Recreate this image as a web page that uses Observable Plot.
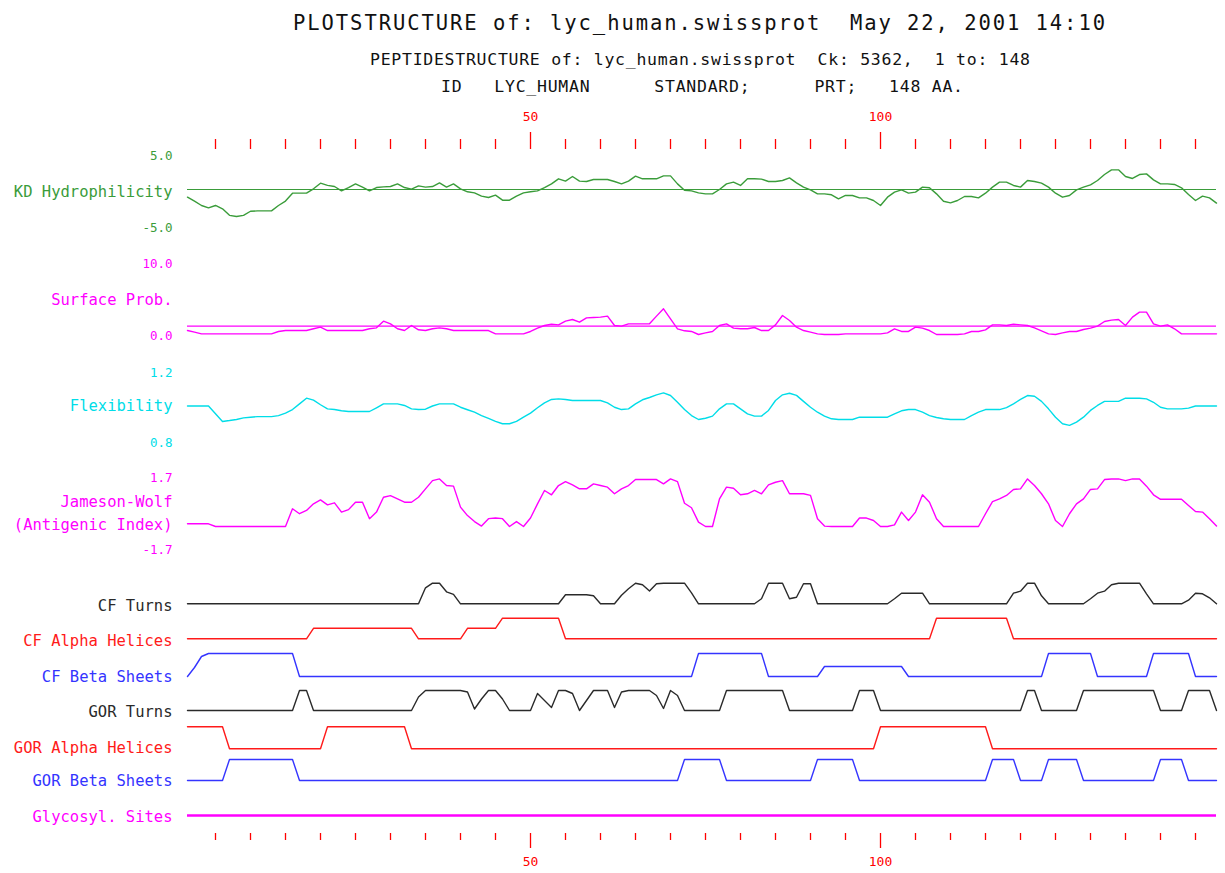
<!DOCTYPE html>
<html>
<head>
<meta charset="utf-8">
<script src="https://cdn.jsdelivr.net/npm/d3@7"></script>
<script src="https://cdn.jsdelivr.net/npm/@observablehq/plot@0.6"></script>
<style>
html, body { margin: 0; padding: 0; background: #fff; }
#chart { position: relative; width: 1225px; height: 873px; overflow: hidden; background: #fff; }
#chart svg { position: absolute; left: 0; top: 0; }
</style>
</head>
<body>
<div id="chart"></div>
<script>
// ---------------- DATA ----------------
const titleLines = [
  "PLOTSTRUCTURE of: lyc_human.swissprot  May 22, 2001 14:10",
  "PEPTIDESTRUCTURE of: lyc_human.swissprot  Ck: 5362,  1 to: 148",
  "ID   LYC_HUMAN      STANDARD;      PRT;   148 AA."
];
const residueDomain = [1, 148];
const minorTicks = [5,10,15,20,25,30,35,40,45,55,60,65,70,75,80,85,90,95,105,110,115,120,125,130,135,140,145];
const majorTicks = [50, 100];
const majorTickLabels = ["50", "100"];

const trackNames = ["KD Hydrophilicity", "Surface Prob.", "Flexibility", "Jameson-Wolf", "(Antigenic Index)",
  "CF Turns", "CF Alpha Helices", "CF Beta Sheets", "GOR Turns", "GOR Alpha Helices", "GOR Beta Sheets", "Glycosyl. Sites"];
const hydroScale = [-5, 5],   hydroTickLabels = ["5.0", "-5.0"];
const surfaceScale = [0, 10], surfaceTickLabels = ["10.0", "0.0"], surfaceThreshold = 1.3;
const flexScale = [0.8, 1.2], flexTickLabels = ["1.2", "0.8"];
const jwScale = [-1.7, 1.7],  jwTickLabels = ["1.7", "-1.7"];

// Kyte-Doolittle hydrophilicity, residues 1..148
const hydrophilicity = [
  -1.13,-1.72,-2.35,-2.70,-2.35,-2.84,-3.80,-3.97,-3.80,-3.20,
  -3.15,-3.15,-3.15,-2.35,-1.70,-0.54,-0.54,-0.54,0.10,0.93,
  0.60,0.44,-0.20,0.29,0.83,0.35,-0.20,0.29,0.39,0.44,
  0.83,0.29,0.05,0.54,0.35,0.44,0.97,0.35,0.83,0.10,
  -0.34,-0.49,-0.98,-1.18,-0.83,-1.57,-1.57,-0.98,-0.49,-0.34,
  -0.20,0.29,0.83,1.57,1.23,1.91,1.23,1.18,1.47,1.47,
  1.47,1.18,0.83,1.23,1.96,1.57,1.57,1.57,2.00,2.00,
  0.83,-0.10,-0.20,-0.50,-0.64,-0.64,0.00,0.83,1.08,0.59,
  1.57,1.57,1.52,1.18,1.18,1.32,1.71,0.98,0.35,-0.05,
  -0.64,-0.64,-0.78,-1.37,-0.88,-0.88,-1.23,-1.23,-1.62,-2.35,
  -1.13,-0.39,-0.05,-0.54,-0.39,0.35,0.25,-0.64,-1.72,-1.96,
  -1.62,-1.03,-1.03,-1.23,-0.54,0.35,1.08,1.08,0.59,0.35,
  1.32,1.18,0.93,0.35,-0.54,-1.13,-0.88,-0.05,0.35,0.69,
  1.32,2.20,2.89,2.89,1.91,1.62,2.20,2.30,1.42,0.83,
  0.83,0.74,0.25,-0.74,-1.62,-0.98,-1.23,-2.00
];
// Surface probability
const surfaceProb = [
  0.69,0.46,0.23,0.23,0.23,0.23,0.23,0.23,0.23,0.23,
  0.23,0.23,0.23,0.56,0.69,0.69,0.69,0.69,0.93,1.16,
  0.69,0.69,0.69,0.69,0.69,0.69,0.93,1.06,1.99,1.62,
  0.93,0.69,1.39,0.79,0.69,0.93,1.06,0.93,0.69,0.69,
  0.69,0.69,0.69,0.69,0.23,0.23,0.23,0.23,0.23,0.56,
  1.02,1.39,1.57,1.48,1.99,2.22,1.85,2.45,2.50,2.55,
  2.69,1.39,1.30,1.62,1.62,1.62,1.62,2.69,3.70,2.31,
  0.93,0.65,0.56,0.14,0.37,0.56,1.39,1.62,1.02,0.93,
  0.93,1.11,0.69,0.69,1.48,2.78,2.08,1.16,0.69,0.46,
  0.23,0.14,0.14,0.14,0.23,0.23,0.23,0.23,0.23,0.23,
  0.37,0.93,0.56,0.56,1.16,1.02,0.69,0.14,0.14,0.14,
  0.14,0.23,0.56,0.56,0.79,1.48,1.48,1.39,1.57,1.48,
  1.39,1.06,0.65,0.23,0.14,0.37,0.56,0.56,0.83,1.02,
  1.30,1.94,2.13,2.22,1.39,2.55,3.24,3.24,1.62,1.30,
  1.48,0.93,0.23,0.23,0.23,0.23,0.23,0.23
];
// Flexibility
const flexibility = [
  1.000,1.000,1.000,1.000,0.956,0.913,0.918,0.924,0.933,0.937,
  0.940,0.940,0.940,0.946,0.960,0.980,1.012,1.044,1.033,1.007,
  0.984,0.980,0.973,0.969,0.969,0.969,0.969,0.990,1.012,1.012,
  1.012,1.003,0.984,0.980,0.982,1.000,1.012,1.012,1.012,0.993,
  0.979,0.965,0.946,0.930,0.913,0.900,0.900,0.913,0.937,0.960,
  0.990,1.018,1.037,1.040,1.037,1.031,1.031,1.031,1.031,1.031,
  1.018,0.993,0.980,0.984,1.012,1.035,1.048,1.063,1.074,1.059,
  1.021,0.980,0.946,0.924,0.931,0.943,0.984,1.012,1.012,0.984,
  0.956,0.943,0.943,0.975,1.031,1.063,1.072,1.060,1.026,0.993,
  0.965,0.943,0.928,0.924,0.924,0.924,0.937,0.937,0.937,0.937,
  0.937,0.956,0.973,0.980,0.980,0.965,0.946,0.935,0.928,0.924,
  0.924,0.924,0.946,0.965,0.980,0.980,0.980,0.991,1.012,1.037,
  1.059,1.055,1.026,0.984,0.937,0.900,0.891,0.909,0.937,0.975,
  1.003,1.026,1.026,1.026,1.044,1.044,1.044,1.040,1.021,0.993,
  0.984,0.984,0.984,0.988,1.000,1.000,1.000,1.000
];
// Jameson-Wolf antigenic index
const antigenicIndex = [
  -0.55,-0.55,-0.55,-0.55,-0.68,-0.68,-0.68,-0.68,-0.68,-0.68,
  -0.68,-0.68,-0.68,-0.68,-0.68,0.18,-0.06,0.10,0.42,0.61,
  0.37,0.47,0.02,0.14,0.50,0.50,-0.30,0.02,0.74,0.82,
  0.66,0.50,0.50,0.74,1.15,1.55,1.63,1.31,1.28,0.26,
  -0.15,-0.44,-0.66,-0.30,-0.27,-0.30,-0.68,-0.44,-0.68,-0.27,
  0.42,1.07,0.86,1.31,1.50,1.34,1.15,1.15,1.39,1.31,
  1.23,0.91,1.15,1.31,1.60,1.60,1.60,1.60,1.39,1.63,
  1.50,0.45,0.23,-0.47,-0.68,-0.68,0.66,1.23,1.18,0.86,
  0.91,1.07,0.91,1.34,1.47,1.55,0.91,0.91,0.91,0.83,
  -0.30,-0.66,-0.68,-0.68,-0.68,-0.68,-0.27,-0.27,-0.39,-0.68,
  -0.68,-0.60,0.02,-0.39,0.02,0.86,0.50,-0.30,-0.68,-0.68,
  -0.68,-0.68,-0.68,-0.68,-0.06,0.53,0.66,0.83,1.12,1.15,
  1.63,1.31,0.91,0.42,-0.39,-0.68,-0.06,0.42,0.66,1.12,
  1.15,1.60,1.63,1.63,1.55,1.63,1.63,1.28,0.86,0.64,
  0.64,0.64,0.64,0.34,0.05,0.02,-0.30,-0.66
];
// Chou-Fasman turns
const cfTurns = [
  0,0,0,0,0,0,0,0,0,0,
  0,0,0,0,0,0,0,0,0,0,
  0,0,0,0,0,0,0,0,0,0,
  0,0,0,0,1.6,2.06,2.06,1.2,0.95,0,
  0,0,0,0,0,0,0,0,0,0,
  0,0,0,0,0.9,0.9,0.9,0.9,0.8,0,
  0,0,0.86,1.5,2.06,1.9,1.27,2.0,2.06,2.06,
  2.06,2.06,1.1,0,0,0,0,0,0,0,
  0,0,0.5,2.06,2.06,2.06,0.5,0.66,2.0,2.0,
  0,0,0,0,0,0,0,0,0,0,
  0,0.5,1.06,1.06,1.06,1.06,0,0,0,0,
  0,0,0,0,0,0,0,0,1.06,1.26,
  2.06,2.06,0.8,0,0,0,0,0,0,0.5,
  1.06,1.26,1.9,2.06,2.06,2.06,2.06,1.0,0,0,
  0,0,0,0.36,1.06,1.0,0.6,0
];
// Chou-Fasman alpha helices
const cfAlpha = [
  0,0,0,0,0,0,0,0,0,0,
  0,0,0,0,0,0,0,0,1.05,1.05,
  1.05,1.05,1.05,1.05,1.05,1.05,1.05,1.05,1.05,1.05,
  1.05,1.05,1.05,0,0,0,0,0,0,0,
  1.05,1.05,1.05,1.05,1.05,2.06,2.06,2.06,2.06,2.06,
  2.06,2.06,2.06,2.06,0,0,0,0,0,0,
  0,0,0,0,0,0,0,0,0,0,
  0,0,0,0,0,0,0,0,0,0,
  0,0,0,0,0,0,0,0,0,0,
  0,0,0,0,0,0,0,0,0,0,
  0,0,0,0,0,0,0,2.06,2.06,2.06,
  2.06,2.06,2.06,2.06,2.06,2.06,2.06,2.06,0,0,
  0,0,0,0,0,0,0,0,0,0,
  0,0,0,0,0,0,0,0,0,0,
  0,0,0,0,0,0,0,0
];
// Chou-Fasman beta sheets
const cfBeta = [
  0,0.9,2.0,2.3,2.3,2.3,2.3,2.3,2.3,2.3,
  2.3,2.3,2.3,2.3,2.3,2.3,0,0,0,0,
  0,0,0,0,0,0,0,0,0,0,
  0,0,0,0,0,0,0,0,0,0,
  0,0,0,0,0,0,0,0,0,0,
  0,0,0,0,0,0,0,0,0,0,
  0,0,0,0,0,0,0,0,0,0,
  0,0,0,2.3,2.3,2.3,2.3,2.3,2.3,2.3,
  2.3,2.3,2.3,0,0,0,0,0,0,0,
  0,1,1,1,1,1,1,1,1,1,
  1,1,1,0,0,0,0,0,0,0,
  0,0,0,0,0,0,0,0,0,0,
  0,0,0,2.3,2.3,2.3,2.3,2.3,2.3,2.3,
  0,0,0,0,0,0,0,0,2.3,2.3,
  2.3,2.3,2.3,2.3,0,0,0,0
];
// Garnier-Osguthorpe-Robson turns
const gorTurns = [
  0,0,0,0,0,0,0,0,0,0,
  0,0,0,0,0,0,2,2,0,0,
  0,0,0,0,0,0,0,0,0,0,
  0,0,0,1.35,2,2,2,2,2,2,
  1.85,0.15,1.15,2,2,1.15,0,0,0,0,
  1.7,1.0,0.3,2,2,1.7,0,1.0,2,2,
  2,0.3,1.85,2,2,2,2,1.5,0.2,2,
  1.5,0,0,0,0,0,0,2,2,2,
  2,2,2,2,2,2,0,0,0,0,
  0,0,0,0,0,0,2,2,2,0,
  0,0,0,0,0,0,0,0,0,0,
  0,0,0,0,0,0,0,0,0,0,
  2,2,0,0,0,0,0,0,2,2,
  2,2,2,2,2,2,2,2,2,0,
  0,0,0,2,2,2,2,0
];
// GOR alpha helices
const gorAlpha = [
  2.2,2.2,2.2,2.2,2.2,2.2,0,0,0,0,
  0,0,0,0,0,0,0,0,0,0,
  2.2,2.2,2.2,2.2,2.2,2.2,2.2,2.2,2.2,2.2,
  2.2,2.2,0,0,0,0,0,0,0,0,
  0,0,0,0,0,0,0,0,0,0,
  0,0,0,0,0,0,0,0,0,0,
  0,0,0,0,0,0,0,0,0,0,
  0,0,0,0,0,0,0,0,0,0,
  0,0,0,0,0,0,0,0,0,0,
  0,0,0,0,0,0,0,0,0,2.2,
  2.2,2.2,2.2,2.2,2.2,2.2,2.2,2.2,2.2,2.2,
  2.2,2.2,2.2,2.2,2.2,0,0,0,0,0,
  0,0,0,0,0,0,0,0,0,0,
  0,0,0,0,0,0,0,0,0,0,
  0,0,0,0,0,0,0,0
];
// GOR beta sheets
const gorBeta = [
  0,0,0,0,0,0,2.1,2.1,2.1,2.1,
  2.1,2.1,2.1,2.1,2.1,2.1,0,0,0,0,
  0,0,0,0,0,0,0,0,0,0,
  0,0,0,0,0,0,0,0,0,0,
  0,0,0,0,0,0,0,0,0,0,
  0,0,0,0,0,0,0,0,0,0,
  0,0,0,0,0,0,0,0,0,0,
  0,2.1,2.1,2.1,2.1,2.1,2.1,0,0,0,
  0,0,0,0,0,0,0,0,0,0,
  2.1,2.1,2.1,2.1,2.1,2.1,0,0,0,0,
  0,0,0,0,0,0,0,0,0,0,
  0,0,0,0,0,2.1,2.1,2.1,2.1,0,
  0,0,0,2.1,2.1,2.1,2.1,2.1,0,0,
  0,0,0,0,0,0,0,0,0,2.1,
  2.1,2.1,2.1,0,0,0,0,0
];
// Glycosylation sites: none predicted
const glycosylSites = [];

// ---------------- STYLE ----------------
const W = 1225, H = 873, ML = 187, MR = 9;
const MONO = "'DejaVu Sans Mono', 'Liberation Mono', monospace";
const GREEN = "#3a9c3a", MAGENTA = "#ff00ff", CYAN = "#00dde8", RED = "#ff1a1a",
      BLUE = "#3434ff", DARK = "#2a2a2a", TICKRED = "#ff0000";
const LW = 1.4, NAME_SIZE = 15.5, NUM_SIZE = 12.5;

const rows = arr => arr.map((v, i) => ({residue: i + 1, value: v}));

function layer(top, bottom, domain, marks) {
  const svg = Plot.plot({
    width: W, height: H,
    marginLeft: ML, marginRight: MR, marginTop: top, marginBottom: H - bottom,
    x: {domain: residueDomain, axis: null},
    y: {domain, axis: null},
    style: {background: "transparent", overflow: "visible"},
    marks
  });
  svg.style.position = "absolute";
  svg.style.left = "0px";
  svg.style.top = "0px";
  return svg;
}
function sideText(v, t, color, size, dy = 0) {
  return Plot.text([0], {
    y: [v], text: [t], frameAnchor: "left", dx: -15, dy,
    textAnchor: "end", fill: color, fontSize: size, fontFamily: MONO
  });
}
function series(arr, color, width = LW) {
  return Plot.line(rows(arr), {x: "residue", y: "value", stroke: color, strokeWidth: width});
}

const chart = document.getElementById("chart");

// ---------------- TITLES ----------------
const titleSvg = d3.create("svg").attr("width", W).attr("height", 100)
  .style("position", "absolute").style("left", "0px").style("top", "0px");
const titleSpecs = [
  {x: 293, y: 30, len: 812, size: 20.5},
  {x: 370, y: 65, len: 660, size: 16.5},
  {x: 441, y: 92, len: 522, size: 16.5}
];
titleLines.forEach((t, i) => {
  const s = titleSpecs[i];
  titleSvg.append("text")
    .attr("x", s.x).attr("y", s.y)
    .attr("textLength", s.len).attr("lengthAdjust", "spacing")
    .attr("font-family", MONO).attr("font-size", s.size)
    .attr("fill", "#111").style("white-space", "pre")
    .text(t);
});
chart.appendChild(titleSvg.node());

// ---------------- RESIDUE AXES (top and bottom) ----------------
const axisTop = 148, axisBottom = 833;
const majorFormat = d => majorTickLabels[majorTicks.indexOf(d)];
const axisSvg = Plot.plot({
  width: W, height: H,
  marginLeft: ML, marginRight: MR, marginTop: axisTop, marginBottom: H - axisBottom,
  x: {domain: residueDomain},
  style: {background: "transparent", overflow: "visible"},
  marks: [
    Plot.axisX(minorTicks, {anchor: "top", tickSize: 10, tickFormat: () => "", color: TICKRED, strokeWidth: 1.3, label: null}),
    Plot.axisX(majorTicks, {anchor: "top", tickSize: 17, tickPadding: 11, tickFormat: majorFormat,
      color: TICKRED, strokeWidth: 1.3, fontSize: 13, fontFamily: MONO, label: null}),
    Plot.axisX(minorTicks, {anchor: "bottom", tickSize: 7, tickFormat: () => "", color: TICKRED, strokeWidth: 1.3, label: null}),
    Plot.axisX(majorTicks, {anchor: "bottom", tickSize: 15, tickPadding: 8, tickFormat: majorFormat,
      color: TICKRED, strokeWidth: 1.3, fontSize: 13, fontFamily: MONO, label: null})
  ]
});
axisSvg.style.position = "absolute"; axisSvg.style.left = "0px"; axisSvg.style.top = "0px";
chart.appendChild(axisSvg);

// ---------------- TRACKS ----------------
// KD Hydrophilicity
chart.appendChild(layer(155, 223, hydroScale, [
  Plot.ruleY([0], {stroke: GREEN, strokeWidth: 1.2}),
  series(hydrophilicity, GREEN),
  sideText(hydroScale[1], hydroTickLabels[0], GREEN, NUM_SIZE),
  sideText(0, trackNames[0], GREEN, NAME_SIZE, 3),
  sideText(hydroScale[0], hydroTickLabels[1], GREEN, NUM_SIZE, 4)
]));

// Surface probability
chart.appendChild(layer(263, 335, surfaceScale, [
  Plot.ruleY([surfaceThreshold], {stroke: MAGENTA, strokeWidth: 1.2}),
  series(surfaceProb, MAGENTA),
  sideText(surfaceScale[1], surfaceTickLabels[0], MAGENTA, NUM_SIZE),
  sideText(5, trackNames[1], MAGENTA, NAME_SIZE, 1),
  sideText(surfaceScale[0], surfaceTickLabels[1], MAGENTA, NUM_SIZE)
]));

// Flexibility
chart.appendChild(layer(370, 441, flexScale, [
  series(flexibility, CYAN),
  sideText(flexScale[1], flexTickLabels[0], CYAN, NUM_SIZE, 2),
  sideText(1.0, trackNames[2], CYAN, NAME_SIZE, 0),
  sideText(flexScale[0], flexTickLabels[1], CYAN, NUM_SIZE, 1.5)
]));

// Jameson-Wolf
chart.appendChild(layer(477, 547, jwScale, [
  series(antigenicIndex, MAGENTA),
  sideText(jwScale[1], jwTickLabels[0], MAGENTA, NUM_SIZE),
  sideText(0.49, trackNames[3], MAGENTA, NAME_SIZE),
  sideText(-0.49, trackNames[4], MAGENTA, NAME_SIZE, 2),
  sideText(jwScale[0], jwTickLabels[1], MAGENTA, NUM_SIZE, 2)
]));

// Secondary-structure step tracks: [data, colour, baseline y, label, label dy]
const stepTracks = [
  [cfTurns,  DARK, 603.3, trackNames[5], 2],
  [cfAlpha,  RED,  638.3, trackNames[6], 2],
  [cfBeta,   BLUE, 676,   trackNames[7], 1],
  [gorTurns, DARK, 710,   trackNames[8], 2],
  [gorAlpha, RED,  748.3, trackNames[9], -1],
  [gorBeta,  BLUE, 780,   trackNames[10], 1]
];
for (const [arr, color, base, name, ldy] of stepTracks) {
  chart.appendChild(layer(base - 22, base, [0, 2.2], [
    series(arr, color),
    sideText(0, name, color, NAME_SIZE, ldy)
  ]));
}

// Glycosylation sites (baseline only; no sites)
chart.appendChild(layer(815 - 22, 815, [0, 2.2], [
  Plot.ruleY([0], {stroke: MAGENTA, strokeWidth: 2.6}),
  Plot.tickX(glycosylSites, {x: d => d, stroke: MAGENTA}),
  sideText(0, trackNames[11], MAGENTA, NAME_SIZE, 2)
]));
</script>
</body>
</html>
